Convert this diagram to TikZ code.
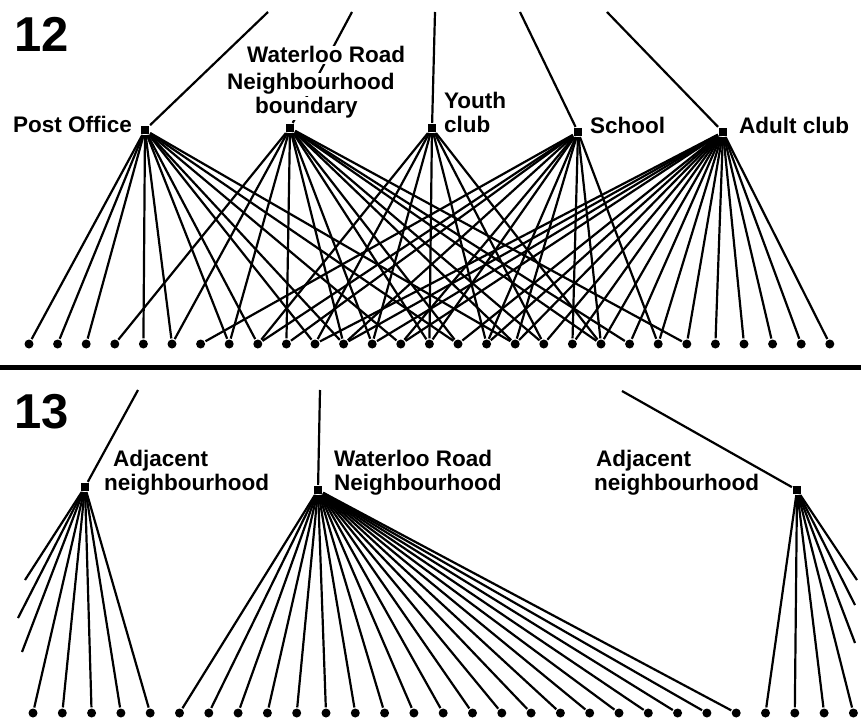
\documentclass[tikz,border=0pt]{standalone}
\usepackage{fontspec}
\setmainfont{Liberation Sans}
\begin{document}
\begin{tikzpicture}[x=1pt,y=-1pt,line width=2.2pt,
  dot/.style={circle,fill=black,inner sep=0pt,minimum size=9pt},
  hub/.style={rectangle,fill=black,inner sep=0pt,minimum size=8pt},
  lab/.style={font=\bfseries\fontsize{22.5}{26}\selectfont,inner sep=0pt,anchor=base west},
  lbw/.style={lab,fill=white,inner sep=1pt},
  big/.style={font=\bfseries\fontsize{49}{50}\selectfont,inner sep=0pt,anchor=base west}]
\useasboundingbox (0,0) rectangle (861,719);
% ---------- figure 12 ----------
\node[big] (n12) at (13,52) {12};
\foreach \i in {0,...,28} \node[dot] (t\i) at ({29+28.6*\i},344) {};
\node[hub] (po) at (145,130) {};
\node[hub] (nb) at (290,128) {};
\node[hub] (yc) at (432,128) {};
\node[hub] (sc) at (578,132) {};
\node[hub] (ac) at (723,132) {};
\coordinate (poT) at (268,12);
\coordinate (nbT) at (352,12);
\coordinate (ycT) at (435,12);
\coordinate (scT) at (520,12);
\coordinate (acT) at (607,12);
\draw (po) -- (poT);
\draw (nb) -- (nbT);
\draw (yc) -- (ycT);
\draw (sc) -- (scT);
\draw (ac) -- (acT);
\foreach \i in {0,1,2,4,5,7,8,10,11,13,15,17} \draw (po) -- (t\i);
\foreach \i in {3,5,7,9,11,12,14,15,17,18,20,21,23} \draw (nb) -- (t\i);
\foreach \i in {8,10,12,14,16,18,20} \draw (yc) -- (t\i);
\foreach \i in {6,8,9,11,13,14,16,17,19,20,22} \draw (sc) -- (t\i);
\foreach \i in {10,11,12,13,15,16,17,18,19,20,21,22,23,24,25,26,27,28} \draw (ac) -- (t\i);
\node[lab] (lpo) at (12,133) {Post Office};
\node[lbw] (lwr1) at (245,63) {Waterloo Road};
\node[lbw] (lwr2) at (225,90) {Neighbourhood};
\node[lbw] (lwr3) at (253,114) {boundary};
\node[lab] (lyc1) at (443,109) {Youth};
\node[lab] (lyc2) at (443,133) {club};
\node[lab] (lsc) at (589,134) {School};
\node[lab] (lac) at (738,134) {Adult club};
% ---------- separator ----------
\coordinate (sepL) at (0,367);
\coordinate (sepR) at (861,367);
\draw[line width=5pt] (sepL) -- (sepR);
% ---------- figure 13 ----------
\node[big] (n13) at (13,428) {13};
\foreach \i in {0,...,28} \node[dot] (b\i) at ({33+29.3*\i},713) {};
\node[hub] (la) at (85,487) {};
\node[hub] (wr) at (318,490) {};
\node[hub] (ra) at (797,490) {};
\coordinate (laT) at (138,390);
\coordinate (wrT) at (320,390);
\coordinate (raT) at (622,391);
\draw (la) -- (laT);
\draw (wr) -- (wrT);
\draw (ra) -- (raT);
\coordinate (lc1) at (25,580);
\coordinate (lc2) at (18,618);
\coordinate (lc3) at (22,652);
\coordinate (rc1) at (857,580);
\coordinate (rc2) at (855,605);
\coordinate (rc3) at (855,643);
\foreach \c in {lc1,lc2,lc3} \draw (la) -- (\c);
\foreach \c in {rc1,rc2,rc3} \draw (ra) -- (\c);
\foreach \i in {0,...,4} \draw (la) -- (b\i);
\foreach \i in {5,...,24} \draw (wr) -- (b\i);
\foreach \i in {25,...,28} \draw (ra) -- (b\i);
\node[lab] (la1) at (112,466) {Adjacent};
\node[lab] (la2) at (103,490) {neighbourhood};
\node[lab] (lw1) at (333,466) {Waterloo Road};
\node[lab] (lw2) at (333,490) {Neighbourhood};
\node[lab] (lr1) at (595,466) {Adjacent};
\node[lab] (lr2) at (593,490) {neighbourhood};
\end{tikzpicture}
\end{document}
